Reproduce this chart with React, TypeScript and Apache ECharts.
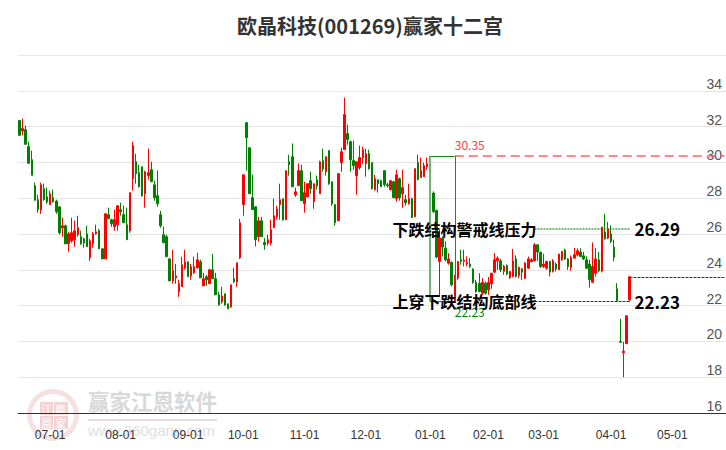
import React, { useEffect, useRef } from "react";
import * as echarts from "echarts";

const slotCount = 231;
const tickIndexes = [10, 33, 55, 73, 93, 113, 134, 153, 171, 193, 213];
const tickLabels = ["07-01", "08-01", "09-01", "10-01", "11-01", "12-01", "01-01", "02-01", "03-01", "04-01", "05-01"];

// open, close, low, high
const candles = [
  [32.34,31.51,31.51,32.34],[31.76,31.89,31.51,32.45],[31.83,31.01,31.01,32.06],[30.88,29.95,29.95,31.16],[30.15,29.28,29.28,30.66],
  [28.70,27.88,27.88,28.87],[27.92,27.36,27.19,28.19],[27.36,28.75,27.13,28.87],[28.53,27.92,27.86,28.81],[28.08,27.79,27.69,28.59],
  [27.64,28.25,27.64,28.42],[28.03,27.80,27.75,28.48],[27.84,27.24,27.13,27.92],[27.52,26.07,25.96,27.52],[26.35,26.46,25.85,26.91],
  [26.46,25.45,25.45,26.52],[25.45,26.01,25.01,26.12],[25.62,26.07,25.51,26.91],[25.68,26.18,25.29,26.74],[25.96,26.35,25.85,27.02],
  [25.85,25.45,25.40,26.18],[25.73,25.51,25.23,25.79],[26.01,25.29,25.29,26.46],[24.67,25.62,24.50,25.73],[25.45,26.01,25.23,26.12],
  [26.01,26.12,25.96,26.52],[26.18,25.17,25.17,26.29],[25.17,24.61,24.61,25.23],[24.61,27.13,24.61,27.13],[27.08,26.85,26.85,27.47],
  [26.80,26.57,26.40,26.85],[26.40,26.80,26.18,27.36],[26.52,27.58,26.18,27.58],[27.36,27.24,27.02,27.75],[27.08,26.63,26.63,27.58],
  [26.52,25.68,25.68,27.47],[26.18,28.31,26.07,28.31],[29.09,30.94,28.42,31.16],[30.04,29.37,28.81,30.49],[29.43,28.64,28.59,29.87],
  [29.76,28.14,28.08,29.76],[28.25,29.48,27.47,29.54],[29.26,29.43,29.03,30.77],[29.59,28.92,28.92,30.04],[28.75,28.03,27.86,28.98],
  [28.14,27.69,27.52,29.54],[27.08,26.46,26.35,27.30],[25.96,25.51,25.51,26.40],[25.85,24.73,24.73,25.96],[24.61,23.38,23.38,24.67],
  [23.38,23.94,23.22,25.12],[23.55,23.66,23.22,24.33],[22.77,23.22,22.49,23.44],[23.05,24.28,23.05,24.73],[24.11,24.45,24.00,25.12],
  [24.45,23.61,23.61,24.45],[23.66,24.17,23.44,24.33],[23.83,24.17,23.78,24.73],[24.11,24.56,24.06,24.95],[24.45,23.55,23.55,24.56],
  [23.10,23.50,23.10,23.83],[23.61,23.44,23.10,23.72],[23.22,24.00,23.22,24.06],[24.00,23.50,23.50,24.89],[23.50,22.60,22.60,23.83],
  [22.60,22.04,21.99,22.77],[22.21,22.54,22.10,23.05],[22.66,22.04,21.99,22.66],[22.10,21.82,21.82,22.10],[21.93,23.16,21.87,23.16],
  [23.50,23.33,23.27,24.11],[23.33,24.39,23.05,24.39],[24.67,26.63,24.61,26.85],[27.64,29.31,27.02,29.31],[32.22,31.38,29.54,32.22],
  [30.82,28.25,28.25,30.82],[28.03,27.36,27.36,29.31],[27.52,25.68,25.30,27.52],[25.85,26.74,25.58,26.96],[26.74,25.85,25.85,26.96],
  [25.53,25.40,25.12,25.77],[25.49,25.68,25.36,25.96],[25.49,26.24,25.36,26.80],[26.35,27.02,26.35,27.97],[26.96,27.41,26.80,27.58],
  [27.64,27.92,26.80,28.81],[27.97,26.80,26.74,27.97],[26.80,29.54,26.80,29.54],[30.04,29.87,29.26,30.43],[30.32,28.64,28.64,31.05],
  [28.19,28.36,28.08,28.59],[28.70,29.54,28.70,29.93],[29.54,27.86,27.86,29.87],[27.69,28.31,27.19,28.92],[28.08,28.81,28.03,28.81],
  [28.98,28.53,28.25,29.48],[27.80,28.81,27.41,28.81],[29.03,28.70,28.48,29.26],[28.25,30.04,28.25,30.10],[30.10,29.65,29.48,30.77],
  [29.48,30.32,29.26,30.32],[30.66,28.81,28.75,30.66],[28.92,27.69,27.58,28.92],[27.64,26.63,26.46,27.69],[26.74,29.37,26.74,29.37],
  [29.99,30.60,29.48,30.82],[30.71,32.67,30.71,33.62],[31.61,31.27,30.99,32.11],[31.16,30.15,29.48,31.22],[30.10,29.82,29.59,31.22],
  [29.26,30.04,28.19,30.04],[29.71,30.27,29.59,30.94],[30.27,30.71,29.93,30.88],[29.93,30.49,29.20,30.77],[30.49,29.65,29.59,30.71],
  [29.99,28.53,28.48,29.99],[28.48,29.09,28.42,29.31],[29.03,28.81,28.31,29.03],[28.98,28.64,28.64,29.03],[29.54,28.75,28.64,29.54],
  [28.75,28.70,28.59,28.87],[28.48,28.98,28.42,28.98],[28.92,28.03,28.03,28.92],[27.97,29.31,27.80,29.59],[29.09,28.03,27.86,29.15],
  [28.25,28.59,27.47,29.59],[27.92,27.75,27.58,28.19],[27.69,27.97,27.64,28.81],[27.97,26.91,26.91,28.03],[26.96,29.65,26.96,29.65],
  [29.99,29.03,29.03,30.43],[29.15,29.54,29.15,30.27],[29.20,29.82,29.20,29.99],[29.76,29.93,29.59,30.27],[29.91,28.48,28.38,30.35],
  [28.29,27.26,27.17,28.38],[27.32,24.71,24.65,27.36],[24.47,25.77,22.51,26.24],[25.77,25.27,24.75,25.86],[25.21,24.56,24.47,25.58],
  [24.37,24.60,24.28,24.93],[24.41,23.16,23.07,24.47],[22.51,23.35,22.23,23.72],[23.53,24.47,23.44,24.47],[24.56,24.47,24.28,25.12],
  [24.47,24.54,24.19,25.12],[24.32,24.41,24.19,24.75],[24.32,24.19,24.09,24.65],[24.04,23.29,23.22,24.09],[23.29,22.79,22.71,23.44],
  [23.25,22.79,22.74,23.81],[22.69,23.29,22.60,23.53],[23.25,22.69,22.60,23.35],[22.88,23.29,22.60,23.60],[23.22,23.81,22.94,23.81],
  [23.87,24.56,23.81,24.93],[24.50,24.65,24.00,24.75],[24.50,24.00,23.87,24.61],[23.91,24.19,23.72,24.28],[24.24,23.76,23.69,24.30],
  [23.57,23.91,23.48,23.91],[23.63,24.50,23.57,25.17],[24.61,23.63,23.57,24.80],[23.68,24.13,23.53,24.19],[24.06,23.87,23.44,24.10],
  [23.53,24.37,23.48,24.43],[24.09,24.61,24.05,24.74],[24.47,24.56,24.40,24.65],[24.50,25.40,24.47,25.49],[25.40,24.99,24.50,25.40],
  [24.99,24.19,24.10,24.99],[24.19,24.32,24.09,24.90],[24.09,24.47,24.00,24.50],[24.47,23.87,23.63,24.50],[23.91,24.50,23.85,24.60],
  [24.32,24.04,23.91,24.40],[24.00,24.88,24.00,24.88],[24.56,25.03,24.50,25.03],[25.10,24.61,24.55,25.18],[24.61,24.19,24.00,24.65],
  [24.13,24.69,23.95,24.80],[24.65,24.84,24.65,25.22],[24.84,25.06,24.75,25.20],[24.99,24.75,24.70,25.20],[24.78,24.61,24.55,25.00],
  [24.56,24.09,24.05,24.75],[24.32,23.44,23.00,24.56],[23.31,24.19,23.25,25.53],[23.81,24.61,23.63,25.21],[24.56,23.94,23.88,25.00],
  [23.94,26.39,23.85,26.39],[26.11,25.73,25.68,27.13],[25.77,26.29,25.71,26.67],[26.00,25.58,25.49,26.48],[25.27,24.69,24.47,25.68],
  [22.94,22.27,22.27,23.25],[20.00,19.95,19.95,21.26],[19.37,19.45,18.00,19.97],[19.88,21.43,19.85,21.43],[22.32,23.61,22.23,23.61],
];

const highValue = 30.35;
const lowValue = 22.23;
const resistanceValue = 26.29;
const supportValue = 22.23;
const lastValue = 23.6;
const highIndex = 134;
const lowIndex = 142;
const levelStartIndex = 168;
const lastIndex = 199;
const endIndex = 230;

const titleText = "欧晶科技(001269)赢家十二宫";
const resistanceText = "下跌结构警戒线压力";
const supportText = "上穿下跌结构底部线";

const categories = Array.from({ length: slotCount }, (_, i) => {
  const k = tickIndexes.indexOf(i);
  return k >= 0 ? tickLabels[k] : String(i);
});
const isTick = (i: number) => tickIndexes.includes(i);

const CJK = '"Noto Sans CJK SC", sans-serif';
const GREEN = "#008000";

function seg(a: [number, number], b: [number, number], lineStyle: any) {
  return [{ coord: a, lineStyle }, { coord: b }];
}

function textMark(idx: number, val: number, text: string, label: any) {
  return {
    coord: [idx, val],
    symbol: "circle",
    symbolSize: 0,
    itemStyle: { color: "transparent" },
    label: { show: true, formatter: text, fontFamily: CJK, ...label },
  };
}

export default function App() {
  const ref = useRef<HTMLDivElement>(null);
  useEffect(() => {
    document.body.style.margin = "0";
    const chart = echarts.init(ref.current!, null, { renderer: "svg" });
    const boxLine = { color: GREEN, width: 1, type: "solid", opacity: 0.9 };
    chart.setOption({
      animation: false,
      backgroundColor: "#fff",
      title: {
        text: titleText,
        left: 232,
        top: 10,
        textStyle: { fontFamily: CJK, fontSize: 20, fontWeight: "bold", color: "#333" },
      },
      grid: { left: 18, right: 0, top: 55, bottom: 37 },
      xAxis: {
        type: "category",
        data: categories,
        boundaryGap: true,
        axisLine: { lineStyle: { color: "#333" } },
        axisTick: { alignWithLabel: true, length: 9, interval: isTick, lineStyle: { color: "#333" } },
        axisLabel: {
          interval: isTick,
          margin: 16,
          fontSize: 12,
          color: "#333",
          fontFamily: '"Liberation Sans", Arial, sans-serif',
        },
        splitLine: { show: false },
      },
      yAxis: {
        type: "value",
        position: "right",
        min: 16,
        max: 36,
        interval: 2,
        axisLine: { show: false },
        axisTick: { show: false },
        axisLabel: {
          inside: true,
          margin: 4,
          fontSize: 14,
          verticalAlign: "bottom",
          color: "#555",
          fontFamily: '"Liberation Sans", Arial, sans-serif',
          formatter: (v: number) => (v === 36 ? "" : String(v)),
        },
        splitLine: { lineStyle: { color: "#e6e6e6", width: 1 } },
      },
      graphic: [
        {
          type: "group",
          silent: true,
          z: -10,
          children: [
            { type: "ring", shape: { cx: 53, cy: 415, r: 26, r0: 21 }, style: { fill: "#f7e0e0" } },
            { type: "rect", shape: { x: 40, y: 402, width: 13, height: 13 }, style: { fill: "#f2d2d2" } },
            { type: "rect", shape: { x: 54, y: 402, width: 14, height: 13 }, style: { fill: "#f2d2d2" } },
            { type: "rect", shape: { x: 40, y: 416, width: 13, height: 13 }, style: { fill: "#f2d2d2" } },
            { type: "rect", shape: { x: 54, y: 416, width: 14, height: 13 }, style: { fill: "#f2d2d2" } },
            { type: "text", x: 41, y: 403, style: { text: "江", fontSize: 11, fontFamily: CJK, fill: "#fff" } },
            { type: "text", x: 55, y: 403, style: { text: "赢", fontSize: 11, fontFamily: CJK, fill: "#fff" } },
            { type: "text", x: 41, y: 417, style: { text: "恩", fontSize: 11, fontFamily: CJK, fill: "#fff" } },
            { type: "text", x: 55, y: 417, style: { text: "家", fontSize: 11, fontFamily: CJK, fill: "#fff" } },
            { type: "text", x: 88, y: 390, style: { text: "赢家江恩软件", fontSize: 21.5, fontFamily: CJK, fontWeight: "bold", fill: "#d8d8d8" } },
            { type: "rect", shape: { x: 88, y: 419, width: 129, height: 2 }, style: { fill: "#ecdcdc" } },
            { type: "text", x: 88, y: 423, style: { text: "www.360gann.com", fontSize: 15, fontFamily: '"Liberation Sans", sans-serif', fill: "#e0e0e0" } },
          ],
        },
      ],
      series: [
        {
          type: "candlestick",
          data: candles,
          barWidth: 2,
          itemStyle: {
            color: "#ff0000",
            color0: GREEN,
            borderColor: "#ff0000",
            borderColor0: GREEN,
            borderWidth: 1,
          },
          markLine: {
            silent: true,
            symbol: "none",
            animation: false,
            label: { show: false },
            data: [
              seg([highIndex, highValue], [lowIndex, highValue], boxLine),
              seg([highIndex, highValue], [highIndex, lowValue], { color: "#6fb56f", width: 2, type: "solid" }),
              seg([lowIndex, highValue], [lowIndex, lowValue], boxLine),
              seg([highIndex, lowValue], [lowIndex, lowValue], boxLine),
              seg([lowIndex, highValue], [endIndex, highValue], { color: "#ff6060", width: 1.5, type: [9, 5] }),
              seg([levelStartIndex, resistanceValue], [lastIndex, resistanceValue], { color: "#1a8f1a", width: 1.5, type: [2, 1], opacity: 0.8 }),
              seg([levelStartIndex, supportValue], [lastIndex, supportValue], { color: "#0a5a0a", width: 1, type: [3, 1] }),
              seg([lastIndex, lastValue], [endIndex, lastValue], { color: "#0a5a0a", width: 1, type: [3, 1] }),
            ],
          },
          markPoint: {
            silent: true,
            animation: false,
            data: [
              textMark(lowIndex, highValue, String(highValue), { position: "right", distance: 0, offset: [0, -12], fontSize: 12, color: "#e8434f" }),
              textMark(lowIndex, lowValue, String(lowValue), { position: "right", distance: 0, offset: [0, 10], fontSize: 12, color: GREEN }),
              textMark(levelStartIndex, resistanceValue, resistanceText, { position: "left", distance: 0, offset: [2, 0], fontSize: 16, fontWeight: "bold", color: "#000" }),
              textMark(levelStartIndex, supportValue, supportText, { position: "left", distance: 0, offset: [2, 0], fontSize: 16, fontWeight: "bold", color: "#000" }),
              textMark(lastIndex, resistanceValue, String(resistanceValue), { position: "right", distance: 5, fontSize: 17, fontWeight: "bold", color: "#000" }),
              textMark(lastIndex, supportValue, String(supportValue), { position: "right", distance: 5, fontSize: 17, fontWeight: "bold", color: "#000" }),
            ],
          },
        },
      ],
    });
    return () => chart.dispose();
  }, []);
  return <div ref={ref} style={{ position: "absolute", left: 0, top: 0, width: 726, height: 450 }} />;
}
